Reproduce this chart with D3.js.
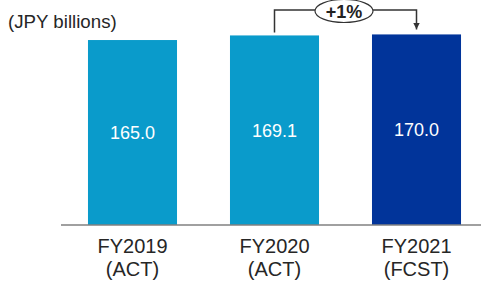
<!DOCTYPE html>
<html>
<head>
<meta charset="utf-8">
<script src="https://cdn.jsdelivr.net/npm/d3@7"></script>
<style>
  body { margin: 0; background: #fff; }
  text { font-family: "Liberation Sans", Arial, sans-serif; }
</style>
</head>
<body>
<svg id="chart" width="482" height="283"></svg>
<script>
// data
var years = ["FY2019", "FY2020", "FY2021"];
var kinds = ["(ACT)", "(ACT)", "(FCST)"];
var values = [165.0, 169.1, 170.0];
var barColors = ["#0a9bcb", "#0a9bcb", "#01349a"];
var growthLabel = "+1%";
var unitLabel = "(JPY billions)";

var svg = d3.select("#chart");

var x = d3.scaleBand()
    .domain(years)
    .range([61, 488])
    .paddingInner(0.373)
    .paddingOuter(0.19);

var y = d3.scaleLinear()
    .domain([0, 200])
    .range([225, 0.8]);

// unit label
svg.append("text")
    .attr("x", 8)
    .attr("y", 27.5)
    .style("font-size", "18.7px")
    .style("fill", "#262626")
    .text(unitLabel);

// bars
svg.selectAll(".bar")
    .data(values)
    .enter().append("rect")
    .attr("class", "bar")
    .attr("x", function(d, i) { return x(years[i]); })
    .attr("y", function(d) { return y(d); })
    .attr("width", x.bandwidth())
    .attr("height", function(d) { return y(0) - y(d); })
    .style("fill", function(d, i) { return barColors[i]; });

// value labels inside bars
svg.selectAll(".val")
    .data(values)
    .enter().append("text")
    .attr("class", "val")
    .attr("x", function(d, i) { return x(years[i]) + x.bandwidth() / 2; })
    .attr("y", function(d) { return (y(d) + y(0)) / 2; })
    .attr("dy", "0.35em")
    .attr("text-anchor", "middle")
    .style("font-size", "18px")
    .style("fill", "#fff")
    .text(function(d) { return d.toFixed(1); });

// baseline
svg.append("line")
    .attr("x1", 61).attr("x2", 481)
    .attr("y1", y(0)).attr("y2", y(0))
    .style("stroke", "#808080")
    .style("stroke-width", 1.3);

// category labels
var cat = svg.selectAll(".cat")
    .data(years)
    .enter().append("text")
    .attr("class", "cat")
    .attr("text-anchor", "middle")
    .style("font-size", "20px")
    .style("fill", "#262626");
cat.append("tspan")
    .attr("x", function(d) { return x(d) + x.bandwidth() / 2; })
    .attr("y", 253)
    .text(function(d) { return d; });
cat.append("tspan")
    .attr("x", function(d) { return x(d) + x.bandwidth() / 2; })
    .attr("y", 275.5)
    .text(function(d, i) { return kinds[i]; });

// growth bracket FY2020 -> FY2021
var x1 = x(years[1]) + x.bandwidth() / 2,
    x2 = x(years[2]) + x.bandwidth() / 2,
    topY = 10,
    midX = (x1 + x2) / 2;

svg.append("defs").append("marker")
    .attr("id", "arrow")
    .attr("viewBox", "0 0 10 10")
    .attr("refX", 10).attr("refY", 5)
    .attr("markerWidth", 4.5).attr("markerHeight", 4.5)
    .attr("orient", "auto")
    .append("path")
    .attr("d", "M0,0L10,5L0,10Z")
    .style("fill", "#333");

svg.append("path")
    .attr("d", "M" + x1 + "," + (y(values[1]) - 3) + "V" + topY + "H" + x2 + "V" + (y(values[2]) - 5))
    .style("fill", "none")
    .style("stroke", "#333")
    .style("stroke-width", 1.5)
    .attr("marker-end", "url(#arrow)");

svg.append("ellipse")
    .attr("cx", midX - 1.5)
    .attr("cy", 11)
    .attr("rx", 29)
    .attr("ry", 11.5)
    .style("fill", "#fff")
    .style("stroke", "#333")
    .style("stroke-width", 1.2);

svg.append("text")
    .attr("x", midX - 1.5)
    .attr("y", 18)
    .attr("text-anchor", "middle")
    .style("font-size", "18px")
    .style("font-weight", "bold")
    .style("fill", "#222")
    .text(growthLabel);
</script>
</body>
</html>
